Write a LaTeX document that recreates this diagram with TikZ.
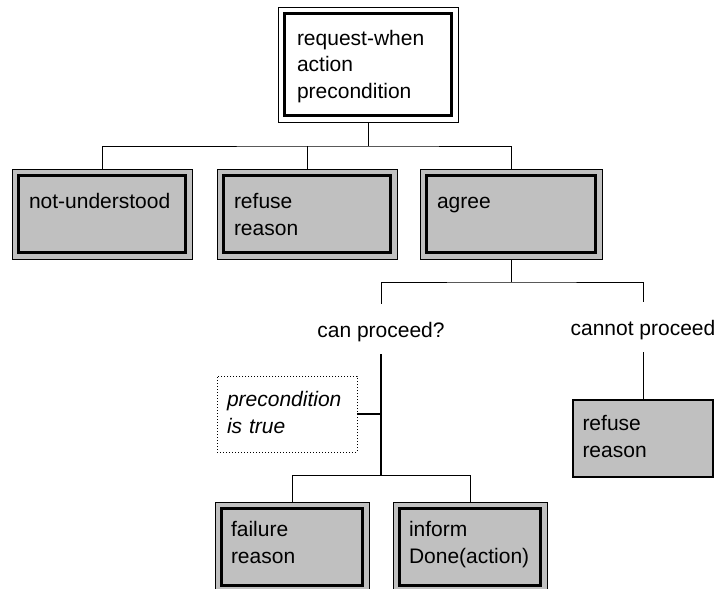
\documentclass[tikz,border=0pt]{standalone}
\usepackage{fontspec}
\setmainfont{Liberation Sans}
\usetikzlibrary{positioning}
\definecolor{boxgrey}{RGB}{192,192,192}
\tikzset{
  msg/.style={draw, line width=1pt, fill=boxgrey, anchor=north west, outer sep=0pt, align=left, text height=14pt},
  lbl/.style={anchor=base, inner xsep=0pt, inner ysep=17pt, text height=16pt, text depth=0pt},
  link/.style={line width=1pt},
  mainlink/.style={line width=2pt}
}
\newcommand{\frameit}[1]{\draw[line width=3.5pt] ([shift={(6.5pt,-6.5pt)}]#1.north west) rectangle ([shift={(-6.5pt,6.5pt)}]#1.south east);}

\begin{document}
\begin{tikzpicture}[x=1pt, y=-1pt, every node/.style={font=\fontsize{21}{27}\selectfont}]
\useasboundingbox (0,0) rectangle (715,589);

\node[msg, fill=white, inner xsep=19pt, text width=142pt, inner ysep=24pt, text depth=53pt] (req) at (278,7) {request-when\\action\\precondition};

\node[msg, inner xsep=17pt, text width=146pt, inner ysep=25pt, text depth=26pt] (notu) at (12,169) {not-understood};
\node[msg, inner xsep=17pt, text width=146pt, inner ysep=25pt, text depth=26pt] (refuse) at (217,169) {refuse\\reason};
\node[msg, inner xsep=17pt, text width=148pt, inner ysep=25pt, text depth=26pt] (agree) at (420,169) {agree};

\node[lbl] (canp) at (381,337) {can proceed?};
\node[lbl] (cannotp) at (643,335) {cannot proceed};

\node[msg, fill=none, dotted, inner xsep=10pt, text width=120pt, inner ysep=16pt, text depth=30pt, font=\fontsize{21}{27}\selectfont\itshape] (precond) at (217,376) {precondition\\is true};
\node[msg, line width=2pt, inner xsep=9.5pt, text width=121pt, inner ysep=16pt, text depth=31pt] (refuse2) at (573,400) {refuse\\reason};

\node[msg, inner xsep=16pt, text width=122pt, inner ysep=20pt, text depth=36pt] (failure) at (215,502) {failure\\reason};
\node[msg, inner xsep=16pt, text width=122pt, inner ysep=20pt, text depth=36pt] (inform) at (393,502) {inform\\\mbox{Done(action)}};

\foreach \n in {req,notu,refuse,agree,failure,inform} {\frameit{\n}}

\draw[link] (req.south) -- ++(0,24) coordinate (top);
\draw[link] (notu.north) |- (top) -| (agree.north);
\draw[link] (refuse.north) -- (refuse.north |- top);

\draw[link] (agree.south) -- ++(0,23) coordinate (fork);
\draw[link] (canp.north) |- (fork) -| (cannotp.north);
\draw[link] (cannotp.south) -- (refuse2.north);

\draw[mainlink] (canp.south) -- ++(0,121) coordinate (split);
\draw[mainlink] (precond.east) -- (precond.east -| canp.south);
\draw[link] (failure.north) |- (split) -| (inform.north);
\end{tikzpicture}
\end{document}
